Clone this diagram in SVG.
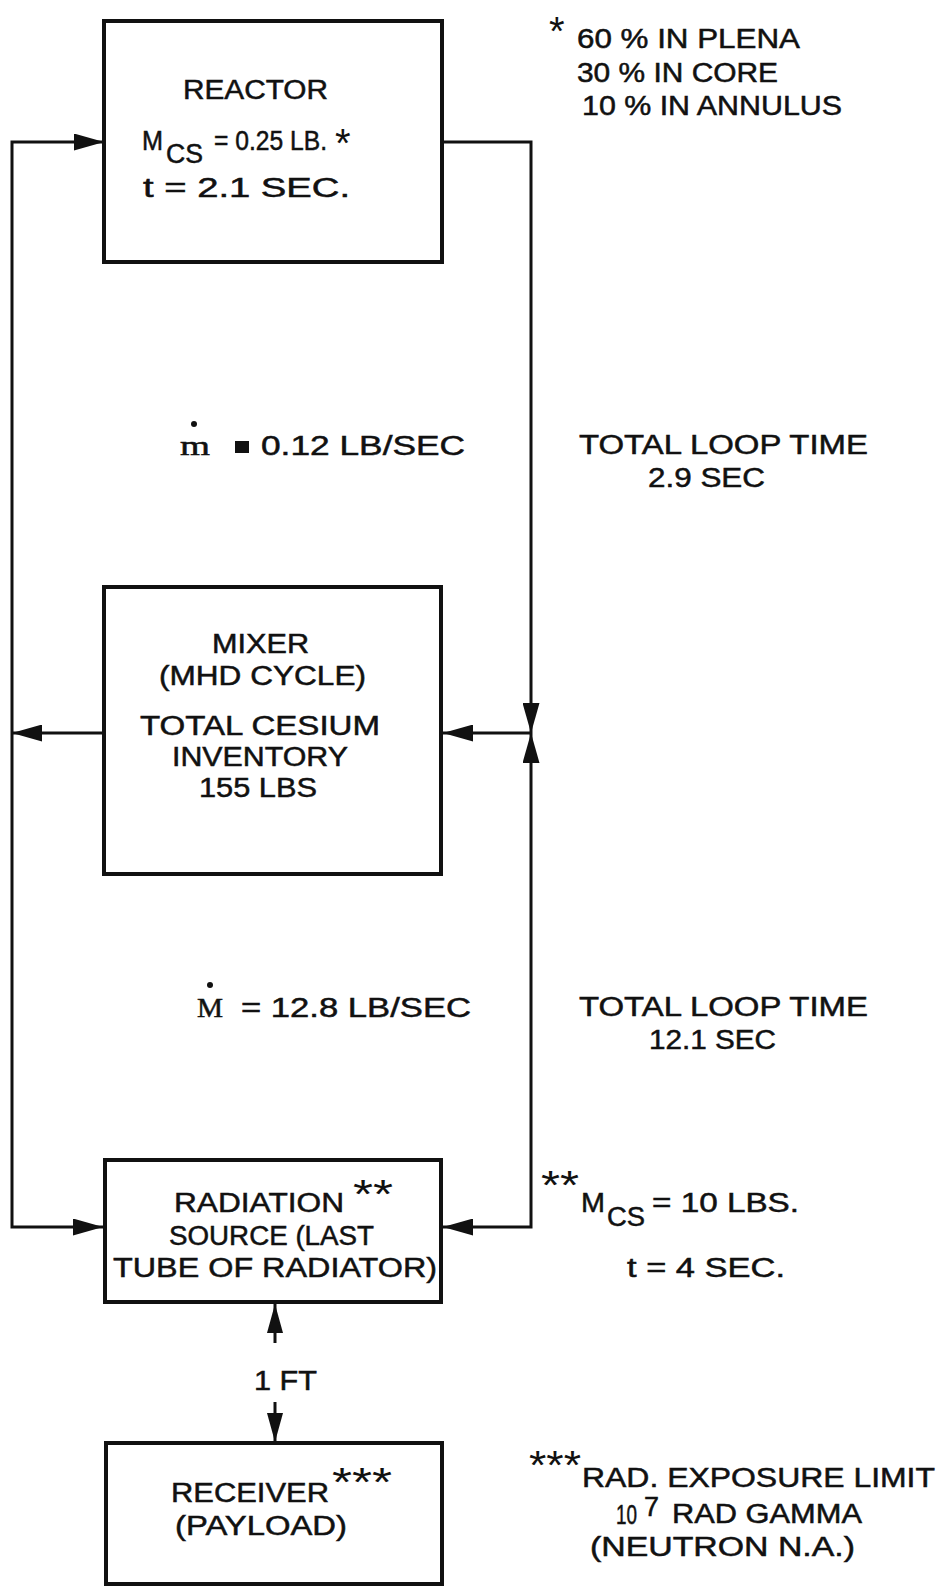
<svg xmlns="http://www.w3.org/2000/svg" width="941" height="1586" viewBox="0 0 941 1586">
<style>
.box{fill:#fff;stroke:#111;stroke-width:4}
.ln{fill:none;stroke:#111;stroke-width:3}
text{font-family:"Liberation Sans",Arial,sans-serif;font-size:27px;fill:#111;stroke:#111;stroke-width:0.5}
.ast{font-size:40px;stroke-width:0}
.ser{font-family:"Liberation Serif","Times New Roman",serif}
</style>
<defs>
<marker id="ah" markerUnits="userSpaceOnUse" markerWidth="31" markerHeight="17" refX="30" refY="8.5" orient="auto-start-reverse">
<path d="M0,0 L30,8.5 L0,17 Z" fill="#111"/>
</marker>
<marker id="ahs" markerUnits="userSpaceOnUse" markerWidth="30" markerHeight="16" refX="29" refY="8" orient="auto-start-reverse">
<path d="M0,0 L29,8 L0,16 Z" fill="#111"/>
</marker>
</defs>
<rect width="941" height="1586" fill="#fff"/>
<g id="connectors">
<path class="ln" d="M104,142 L12,142 L12,1227 L103,1227" marker-start="url(#ah)" marker-end="url(#ah)"/>
<path class="ln" d="M104,733 L12,733" marker-end="url(#ah)"/>
<path class="ln" d="M441,142 L531,142 L531,733" marker-end="url(#ah)"/>
<path class="ln" d="M531,733 L531,1227 L443,1227" marker-start="url(#ah)" marker-end="url(#ah)"/>
<path class="ln" d="M531,733 L443,733" marker-end="url(#ah)"/>
<path class="ln" d="M275,1343 L275,1304" marker-end="url(#ahs)"/>
<path class="ln" d="M275,1402 L275,1442" marker-end="url(#ahs)"/>
</g>
<g id="reactor">
<rect class="box" x="104" y="21" width="338" height="241"/>
<text x="183" y="99" textLength="145" lengthAdjust="spacingAndGlyphs">REACTOR</text>
<text x="142" y="150" textLength="21" lengthAdjust="spacingAndGlyphs">M</text>
<text x="166" y="163" textLength="37" lengthAdjust="spacingAndGlyphs">CS</text>
<text x="214" y="150" textLength="113" lengthAdjust="spacingAndGlyphs">= 0.25 LB.</text>
<text class="ast" x="335" y="157">*</text>
<text x="143" y="197" textLength="207" lengthAdjust="spacingAndGlyphs">t = 2.1 SEC.</text>
</g>
<g id="note-reactor">
<text class="ast" x="549" y="45">*</text>
<text x="577" y="48" textLength="223" lengthAdjust="spacingAndGlyphs">60 % IN PLENA</text>
<text x="577" y="82" textLength="201" lengthAdjust="spacingAndGlyphs">30 % IN CORE</text>
<text x="582" y="115" textLength="260" lengthAdjust="spacingAndGlyphs">10 % IN ANNULUS</text>
</g>
<g id="flow-small">
<circle cx="194" cy="424" r="3" fill="#111"/>
<text class="ser" x="180" y="455" textLength="30" lengthAdjust="spacingAndGlyphs">m</text>
<rect x="235" y="441" width="14" height="12" fill="#111"/>
<text x="261" y="455" textLength="204" lengthAdjust="spacingAndGlyphs">0.12 LB/SEC</text>
<text x="579" y="454" textLength="289" lengthAdjust="spacingAndGlyphs">TOTAL LOOP TIME</text>
<text x="648" y="487" textLength="117" lengthAdjust="spacingAndGlyphs">2.9 SEC</text>
</g>
<g id="mixer">
<rect class="box" x="104" y="587" width="337" height="287"/>
<text x="212" y="653" textLength="97" lengthAdjust="spacingAndGlyphs">MIXER</text>
<text x="159" y="685" textLength="207" lengthAdjust="spacingAndGlyphs">(MHD CYCLE)</text>
<text x="140" y="735" textLength="240" lengthAdjust="spacingAndGlyphs">TOTAL CESIUM</text>
<text x="172" y="766" textLength="176" lengthAdjust="spacingAndGlyphs">INVENTORY</text>
<text x="199" y="797" textLength="118" lengthAdjust="spacingAndGlyphs">155 LBS</text>
</g>
<g id="flow-large">
<circle cx="210" cy="985" r="3" fill="#111"/>
<text class="ser" x="197" y="1017" textLength="26" lengthAdjust="spacingAndGlyphs">M</text>
<text x="241" y="1017" textLength="230" lengthAdjust="spacingAndGlyphs">= 12.8 LB/SEC</text>
<text x="579" y="1016" textLength="289" lengthAdjust="spacingAndGlyphs">TOTAL LOOP TIME</text>
<text x="649" y="1049" textLength="127" lengthAdjust="spacingAndGlyphs">12.1 SEC</text>
</g>
<g id="radiation">
<rect class="box" x="105" y="1160" width="336" height="142"/>
<text x="174" y="1212" textLength="170" lengthAdjust="spacingAndGlyphs">RADIATION</text>
<text class="ast" x="353" y="1208" textLength="40" lengthAdjust="spacingAndGlyphs">**</text>
<text x="169" y="1245" textLength="205" lengthAdjust="spacingAndGlyphs">SOURCE (LAST</text>
<text x="113" y="1277" textLength="324" lengthAdjust="spacingAndGlyphs">TUBE OF RADIATOR)</text>
</g>
<g id="note-radiation">
<text class="ast" x="541" y="1199" textLength="38" lengthAdjust="spacingAndGlyphs">**</text>
<text x="581" y="1212" textLength="24" lengthAdjust="spacingAndGlyphs">M</text>
<text x="607" y="1226" textLength="38" lengthAdjust="spacingAndGlyphs">CS</text>
<text x="652" y="1212" textLength="147" lengthAdjust="spacingAndGlyphs">= 10 LBS.</text>
<text x="627" y="1277" textLength="158" lengthAdjust="spacingAndGlyphs">t = 4 SEC.</text>
</g>
<g id="distance">
<text x="254" y="1390" textLength="63" lengthAdjust="spacingAndGlyphs">1 FT</text>
</g>
<g id="receiver">
<rect class="box" x="106" y="1443" width="336" height="141"/>
<text x="171" y="1502" textLength="158" lengthAdjust="spacingAndGlyphs">RECEIVER</text>
<text class="ast" x="332" y="1496" textLength="60" lengthAdjust="spacingAndGlyphs">***</text>
<text x="175" y="1535" textLength="172" lengthAdjust="spacingAndGlyphs">(PAYLOAD)</text>
</g>
<g id="note-receiver">
<text class="ast" x="529" y="1479" textLength="52" lengthAdjust="spacingAndGlyphs">***</text>
<text x="582" y="1487" textLength="353" lengthAdjust="spacingAndGlyphs">RAD. EXPOSURE LIMIT</text>
<text x="616" y="1524" font-size="24" textLength="21" lengthAdjust="spacingAndGlyphs">10</text>
<text x="644" y="1516" font-size="17">7</text>
<text x="672" y="1523" textLength="190" lengthAdjust="spacingAndGlyphs">RAD GAMMA</text>
<text x="590" y="1556" textLength="265" lengthAdjust="spacingAndGlyphs">(NEUTRON N.A.)</text>
</g>
</svg>
